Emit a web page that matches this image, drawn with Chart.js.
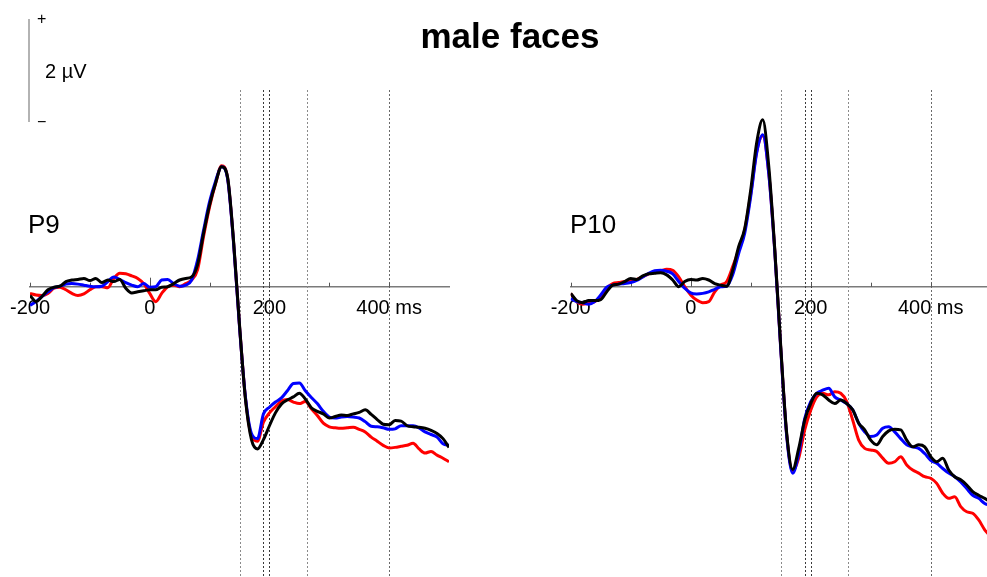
<!DOCTYPE html>
<html>
<head>
<meta charset="utf-8">
<title>male faces</title>
<script src="https://cdn.jsdelivr.net/npm/chart.js@4.4.1/dist/chart.umd.min.js"></script>
<style>
  html, body { margin: 0; padding: 0; background: #fff; }
  #wrap { position: relative; width: 987px; height: 577px; overflow: hidden;
          font-family: "Liberation Sans", Arial, sans-serif; }
  #wrap canvas { position: absolute; left: 0; top: 0; }
  .txt { position: absolute; line-height: 1; white-space: nowrap; color: #000; }
</style>
</head>
<body>
<div id="wrap">
  <canvas id="chartP9" width="987" height="577"></canvas>
  <canvas id="chartP10" width="987" height="577"></canvas>
  <div class="txt" style="left:310px;width:400px;text-align:center;top:18px;font-size:35px;font-weight:bold;">male faces</div>
  <div class="txt" style="left:28px;top:211px;font-size:26px;">P9</div>
  <div class="txt" style="left:570px;top:211px;font-size:26px;">P10</div>
  <div class="txt" style="left:45px;top:61px;font-size:20px;">2 µV</div>
  <div class="txt" style="left:37px;top:11px;font-size:16px;">+</div>
  <div class="txt" style="left:37px;top:114px;font-size:16px;">−</div>
</div>
<script>
// Sample times (ms) relative to stimulus onset
const sampleTimes = [
  -200,-190,-180,-170,-160,-150,-140,-130,-120,-110,
  -100,-90,-80,-70,-60,-50,-40,-30,-20,-10,
  0,10,20,30,40,50,60,70,80,90,
  100,110,120,130,140,150,160,170,180,190,
  200,210,220,230,240,250,260,270,280,290,
  300,310,320,330,340,350,360,370,380,390,
  400,410,420,430,440,450,460,470,480,490,500
];

// Grand-average amplitudes (µV), electrode P9
const p9Red = [
  -0.13,-0.16,-0.17,-0.13,-0.03,-0.01,-0.06,-0.13,-0.17,-0.14,
  -0.06,0.00,0.00,-0.02,0.16,0.26,0.25,0.21,0.16,0.06,
  -0.13,-0.29,-0.13,0.00,0.03,0.00,0.06,0.13,0.33,0.98,
  1.55,2.00,2.35,2.12,0.88,-0.76,-2.17,-2.90,-3.00,-2.63,
  -2.45,-2.33,-2.22,-2.19,-2.24,-2.27,-2.23,-2.37,-2.50,-2.65,
  -2.72,-2.74,-2.75,-2.74,-2.73,-2.77,-2.82,-2.92,-3.00,-3.08,
  -3.13,-3.12,-3.10,-3.08,-3.04,-3.15,-3.23,-3.20,-3.27,-3.33,-3.40
];
const p9Blue = [
  -0.36,-0.29,-0.19,-0.10,-0.02,0.01,0.05,0.06,0.05,0.03,
  0.01,0.00,0.01,0.10,0.19,0.14,0.08,0.03,0.00,0.06,
  -0.01,0.00,0.13,0.14,0.06,0.01,0.03,0.13,0.52,1.10,
  1.65,2.05,2.33,2.10,0.86,-0.78,-2.15,-2.85,-2.95,-2.47,
  -2.34,-2.24,-2.16,-2.02,-1.88,-1.87,-2.02,-2.15,-2.27,-2.42,
  -2.53,-2.55,-2.53,-2.52,-2.53,-2.55,-2.62,-2.71,-2.72,-2.74,
  -2.77,-2.76,-2.70,-2.70,-2.70,-2.74,-2.82,-2.87,-2.92,-3.05,-3.08
];
const p9Black = [
  -0.17,-0.29,-0.19,-0.06,-0.01,0.01,0.10,0.13,0.14,0.16,
  0.12,0.16,0.08,0.13,0.10,0.14,-0.03,-0.12,-0.10,-0.08,
  -0.06,-0.06,-0.01,0.00,0.06,0.13,0.16,0.19,0.43,1.04,
  1.59,2.01,2.33,2.13,0.90,-0.74,-2.19,-2.97,-3.15,-2.97,
  -2.70,-2.45,-2.28,-2.20,-2.14,-2.07,-2.18,-2.35,-2.42,-2.47,
  -2.55,-2.52,-2.49,-2.50,-2.47,-2.44,-2.39,-2.48,-2.58,-2.67,
  -2.68,-2.60,-2.61,-2.70,-2.72,-2.73,-2.75,-2.79,-2.85,-2.95,-3.12
];

// Grand-average amplitudes (µV), electrode P10
const p10Red = [
  -0.13,-0.29,-0.34,-0.32,-0.29,-0.19,-0.03,0.06,0.08,0.10,
  0.11,0.14,0.19,0.25,0.29,0.31,0.34,0.32,0.19,0.00,
  -0.16,-0.26,-0.31,-0.29,-0.10,0.03,0.10,0.39,0.72,1.10,
  1.80,2.62,2.93,2.22,0.72,-1.18,-2.88,-3.58,-3.33,-2.78,
  -2.40,-2.14,-2.07,-2.10,-2.04,-2.07,-2.23,-2.59,-2.98,-3.14,
  -3.17,-3.20,-3.33,-3.43,-3.40,-3.30,-3.46,-3.56,-3.62,-3.69,
  -3.72,-3.82,-4.01,-4.11,-4.08,-4.27,-4.37,-4.40,-4.53,-4.72,-4.85
];
const p10Blue = [
  -0.23,-0.29,-0.31,-0.34,-0.29,-0.16,-0.01,0.03,0.05,0.06,
  0.08,0.12,0.19,0.26,0.31,0.32,0.30,0.25,0.10,-0.03,
  -0.12,-0.14,-0.13,-0.10,-0.05,0.00,0.01,0.23,0.65,1.04,
  1.75,2.60,2.95,2.20,0.70,-1.20,-2.90,-3.62,-3.24,-2.56,
  -2.23,-2.07,-2.01,-1.97,-2.14,-2.20,-2.27,-2.39,-2.65,-2.82,
  -2.91,-2.88,-2.75,-2.72,-2.82,-2.95,-3.07,-3.11,-3.14,-3.24,
  -3.37,-3.43,-3.53,-3.62,-3.69,-3.79,-3.92,-4.05,-4.11,-4.21,-4.25
];
const p10Black = [
  -0.13,-0.27,-0.31,-0.27,-0.27,-0.25,-0.10,0.03,0.05,0.10,
  0.16,0.14,0.21,0.25,0.26,0.27,0.23,0.13,0.00,0.10,
  0.14,0.13,0.16,0.13,0.06,0.03,0.01,0.32,0.78,1.13,
  1.88,2.80,3.24,2.35,0.75,-1.15,-2.85,-3.55,-3.14,-2.59,
  -2.27,-2.07,-2.10,-2.20,-2.27,-2.20,-2.27,-2.39,-2.65,-2.78,
  -2.98,-3.07,-2.91,-2.80,-2.77,-2.78,-2.98,-3.11,-3.07,-3.11,
  -3.30,-3.40,-3.33,-3.56,-3.69,-3.75,-3.85,-3.98,-4.05,-4.11,-4.18
];

// Axis ticks and labels (ms)
const tickMarks = [-200, -100, 0, 100, 200, 300, 400];
const tickValues = [-200, 0, 200, 400];
const tickTexts = ['-200', '0', '200', '400 ms'];

// Analysis window boundaries (ms)
const markerTimes = [150, 190, 200, 262, 400];
const markerShades = ['#8a8a8a', '#3a3a3a', '#3a3a3a', '#8a8a8a', '#6a6a6a'];

// Calibration bar height (µV)
const scaleBarMicroVolts = 2;

const FONT = '"Liberation Sans", Arial, sans-serif';

const erpDecor = {
  id: 'erpDecor',
  beforeDatasetsDraw(chart, args, opts) {
    const { ctx, scales: { x, y } } = chart;
    const y0 = y.getPixelForValue(0);
    ctx.save();
    // dotted window markers
    ctx.lineWidth = 1;
    ctx.setLineDash([2, 2]);
    markerTimes.forEach((t, i) => {
      const px = Math.round(x.getPixelForValue(t)) + 0.5;
      ctx.strokeStyle = markerShades[i];
      ctx.beginPath();
      ctx.moveTo(px, opts.markerTop);
      ctx.lineTo(px, chart.height);
      ctx.stroke();
    });
    ctx.setLineDash([]);
    // small tick marks pointing up from the time axis
    ctx.strokeStyle = '#555';
    ctx.lineWidth = 1;
    tickMarks.forEach(t => {
      if (t < x.min || t > x.max) return;
      const px = Math.round(x.getPixelForValue(t)) + 0.5;
      const len = t === 0 ? 9 : 4;
      ctx.beginPath();
      ctx.moveTo(px, y0);
      ctx.lineTo(px, y0 - len);
      ctx.stroke();
    });
    // amplitude calibration bar
    if (opts.scaleBar) {
      const len = Math.abs(y.getPixelForValue(scaleBarMicroVolts) - y.getPixelForValue(0));
      ctx.strokeStyle = '#9a9a9a';
      ctx.lineWidth = 1.5;
      ctx.beginPath();
      ctx.moveTo(opts.scaleBar.x, opts.scaleBar.top);
      ctx.lineTo(opts.scaleBar.x, opts.scaleBar.top + len);
      ctx.stroke();
    }
    ctx.restore();
  }
};

function series(values) {
  return values.map((v, i) => ({ x: sampleTimes[i], y: v }));
}

function wave(label, values, color) {
  return {
    label,
    data: series(values),
    borderColor: color,
    backgroundColor: color,
    borderWidth: 3,
    pointRadius: 0,
    cubicInterpolationMode: 'monotone',
    fill: false
  };
}

// Dataset 0 is painted last, so black sits on top of blue, blue on top of red
function makeChart(canvasId, red, blue, black, xMax, padLeft, padRight, scaleBar) {
  return new Chart(document.getElementById(canvasId), {
    type: 'line',
    data: {
      datasets: [
        wave('black', black, '#000000'),
        wave('blue', blue, '#0000ff'),
        wave('red', red, '#ff0000')
      ]
    },
    options: {
      responsive: false,
      animation: false,
      devicePixelRatio: 1,
      layout: { padding: { left: padLeft, right: padRight, top: 0, bottom: 0 } },
      plugins: {
        legend: { display: false },
        tooltip: { enabled: false },
        title: { display: false },
        erpDecor: { markerTop: 90, scaleBar }
      },
      scales: {
        x: {
          type: 'linear',
          min: -200,
          max: xMax,
          position: { y: 0 },
          afterBuildTicks: (scale) => { scale.ticks = tickMarks.map(v => ({ value: v })); },
          grid: { display: true, drawOnChartArea: false, drawTicks: false },
          border: { display: true, color: '#7a7a7a', width: 1.5 },
          ticks: {
            autoSkip: false,
            maxRotation: 0,
            minRotation: 0,
            padding: 10,
            color: '#000',
            font: { family: FONT, size: 20 },
            callback: (value) => {
              const k = tickValues.indexOf(value);
              return k >= 0 ? tickTexts[k] : '';
            }
          }
        },
        y: {
          type: 'linear',
          display: false,
          min: -5.637,
          max: 5.567
        }
      }
    },
    plugins: [erpDecor]
  });
}

makeChart('chartP9', p9Red, p9Blue, p9Black, 500, 29, 538, { x: 29, top: 19 });
makeChart('chartP10', p10Red, p10Blue, p10Black, 493.8, 570.7, 0, null);
</script>
</body>
</html>
